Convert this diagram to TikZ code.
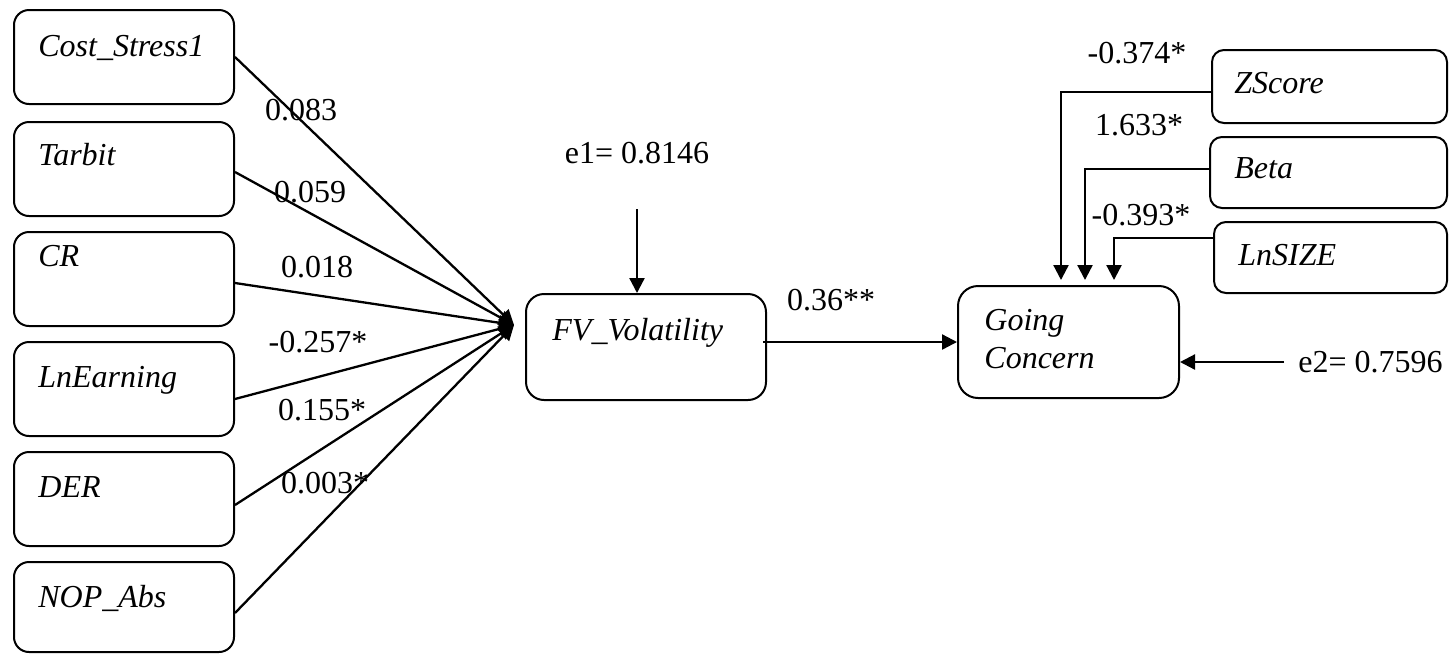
\documentclass[tikz,border=0pt]{standalone}
\usepackage{fontspec}
\setmainfont{Liberation Serif}
\usetikzlibrary{arrows.meta,calc}
\begin{document}
\begin{tikzpicture}[x=0.5pt,y=-0.5pt,
  box/.style={draw,line width=1pt,rounded corners=7.5pt,inner sep=0pt},
  vname/.style={anchor=base west,inner sep=0pt,font=\fontsize{16}{19}\selectfont\itshape},
  coef/.style={inner sep=0pt,font=\fontsize{16}{19}\selectfont},
  arr/.style={line width=1.15pt,-{Triangle[length=7.5pt,width=7.5pt]}},
  lbox/.style={box,minimum width=110pt,minimum height=47pt},
  rbox/.style={box,rounded corners=6pt,minimum height=35.5pt}
]
\useasboundingbox (0,0) rectangle (1449,654);
\clip (0,0) rectangle (1449,654);

% left boxes
\node[lbox] (b1) at (124,57) {};
\node[lbox] (b2) at (124,169) {};
\node[lbox] (b3) at (124,279) {};
\node[lbox] (b4) at (124,389) {};
\node[lbox] (b5) at (124,499) {};
\node[lbox,minimum height=45pt] (b6) at (124,607) {};
\node[vname] (t1) at (38,56) {Cost\_Stress1};
\node[vname] (t2) at (38,165) {Tarbit};
\node[vname] (t3) at (38,266) {CR};
\node[vname] (t4) at (38,387) {LnEarning};
\node[vname] (t5) at (38,497) {DER};
\node[vname] (t6) at (38,607) {NOP\_Abs};

% FV box
\node[box,rounded corners=9pt,minimum width=120pt,minimum height=53pt] (fv) at (646,347) {};
\node[vname] (tfv) at (552,340) {FV\_Volatility};
\coordinate (conv) at (514,325);

\draw[arr] (b1.east) -- (conv);
\draw[arr] ($(b2.east)+(0,3)$) -- (conv);
\draw[arr] ($(b3.east)+(0,4)$) -- (conv);
\draw[arr] ($(b4.east)+(0,10)$) -- (conv);
\draw[arr] ($(b5.east)+(0,6)$) -- (conv);
\draw[arr] ($(b6.east)+(0,6)$) -- (conv);

\node[coef] (c1) at (301,110) {0.083};
\node[coef] (c2) at (310,192) {0.059};
\node[coef] (c3) at (317,267) {0.018};
\node[coef] (c4) at (318,342) {-0.257*};
\node[coef] (c5) at (322,410) {0.155*};
\node[coef] (c6) at (325,483) {0.003*};

% e1
\node[coef] (e1) at (637,153) {e1= 0.8146};
\coordinate (e1s) at (637,209);
\draw[arr] (e1s) -- (e1s |- fv.north);

% Going concern
\node[box,rounded corners=10pt,minimum width=110.5pt,minimum height=56pt] (gc) at (1068.5,342) {};
\node[vname] (tgc1) at (984,330) {Going};
\node[vname] (tgc2) at (984,368) {Concern};
\draw[arr] ($(gc.west -| fv.east)+(-4,0)$) -- (gc.west);
\node[coef] (c7) at (831,300) {0.36**};

% right boxes
\node[rbox,minimum width=117.5pt,minimum height=36.5pt] (zs) at (1329.5,86.5) {};
\node[rbox,minimum width=118.5pt] (beta) at (1328.5,172.5) {};
\node[rbox,minimum width=116.5pt] (size) at (1330.5,257.5) {};
\node[vname] (tzs) at (1234,93) {ZScore};
\node[vname] (tbeta) at (1234,178) {Beta};
\node[vname] (tsize) at (1238,265) {LnSIZE};

\draw[arr] ($(zs.west)+(0,5.5)$) -| ($(gc.north west)+(104,-5)$);
\draw[arr] ($(beta.west)+(0,-3.5)$) -| ($(gc.north west)+(128,-5)$);
\draw[arr] ($(size.west)+(0,-19.5)$) -| ($(gc.north west)+(157,-5)$);

\node[coef] (c8) at (1137,53) {-0.374*};
\node[coef] (c9) at (1139,125) {1.633*};
\node[coef] (c10) at (1141,215) {-0.393*};

% e2
\node[coef,anchor=west] (e2) at (1298,362) {e2= 0.7596};
\draw[arr] ($(e2.west)+(-14,0)$) -- (e2.west -| gc.east);
\end{tikzpicture}
\end{document}
